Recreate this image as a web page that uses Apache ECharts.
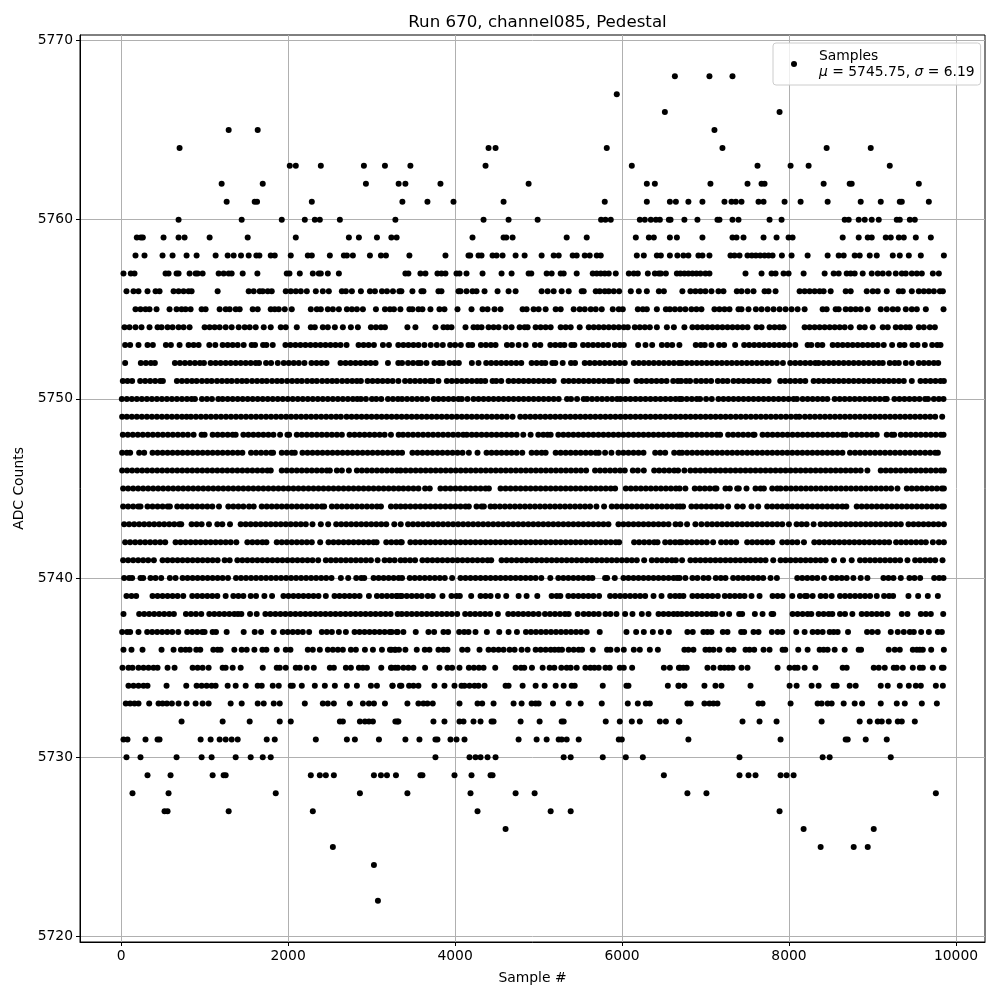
<!DOCTYPE html>
<html>
<head>
<meta charset="utf-8">
<title>Run 670, channel085, Pedestal</title>
<script src="https://cdn.jsdelivr.net/npm/echarts@6/dist/echarts.min.js"></script>
<style>
  html, body { margin: 0; padding: 0; background: #fff; }
  #chart { width: 1000px; height: 1000px; }
</style>
</head>
<body>
<div id="chart"></div>
<script>
// sample numbers, one list per ADC level
const s5768 = [6633,7047,7323];
const s5767 = [5937];
const s5766 = [6513,7887];
const s5765 = [1288,1636,7107];
const s5764 = [700,4401,4485,5817,7203,8451,8979];
const s5763 = [2020,2092,2392,2908,3160,3465,4365,6117,7623,8019,8235,9207];
const s5762 = [1204,1696,2932,3324,3405,3825,4881,6297,6393,7059,7503,7671,7707,8415,8727,8751,9555];
const s5761 = [1264,1600,1628,2284,3369,3669,3981,4581,5793,6297,6573,6645,6795,6963,7227,7311,7363,7431,7635,7695,7947,8139,8463,8859,9099,9327,9351,9675];
const s5760 = [688,1444,1924,2200,2320,2380,2620,3285,4341,4641,4989,5749,5801,5865,6213,6273,6345,6405,6453,6561,6581,6747,6903,7143,7167,7323,7395,7767,7911,8667,8715,8835,8907,8991,9075,9291,9327,9447,9507];
const s5759 = [188,236,260,508,688,760,1060,1516,2092,2728,2848,3064,3237,3300,4209,4581,4613,4689,5337,5577,6165,6321,6381,6573,6657,6963,7323,7371,7455,7695,7851,7995,8043,8643,8835,8943,8991,9159,9219,9315,9375,9519,9699];
const s5758 = [172,280,496,616,784,904,1132,1276,1348,1436,1528,1620,1656,1792,1840,2032,2236,2284,2500,2668,2704,2776,2980,3112,3172,3453,3885,4161,4181,4281,4317,4449,4497,4569,4725,4833,5037,5181,5241,5409,5457,5553,5613,5697,5745,6177,6261,6417,6465,6573,6663,6735,6795,6915,6963,7047,7299,7347,7407,7503,7555,7603,7655,7707,7755,7803,7915,8031,8223,8463,8595,8655,8787,8847,8967,9051,9243,9327,9435,9579,9855];
const s5757 = [28,116,160,532,568,664,688,820,892,916,976,1168,1228,1288,1324,1456,1632,1984,2016,2140,2296,2368,2392,2476,2608,3405,3441,3585,3645,3789,3837,3885,4017,4053,4137,4329,4557,4677,4881,4913,5097,5157,5265,5301,5457,5649,5697,5745,5793,5841,5925,6081,6141,6189,6309,6393,6441,6465,6525,6657,6699,6747,6795,6843,6891,6939,6999,7047,7479,7671,7791,7839,7935,7995,8175,8427,8535,8595,8691,8739,8787,8883,8991,9063,9123,9195,9279,9351,9399,9471,9531,9591,9723,9795];
const s5756 = [64,148,208,316,412,460,628,688,748,808,844,1156,1528,1588,1660,1696,1756,1804,1972,2032,2092,2152,2224,2332,2416,2488,2644,2692,2764,2872,2980,3040,3124,3184,3256,3333,3357,3489,3597,3621,3801,3837,4041,4065,4137,4209,4257,4353,4509,4641,4725,5037,5109,5181,5277,5361,5517,5541,5685,5733,5793,5841,5901,5965,6105,6201,6297,6441,6501,6723,6819,6879,6939,6999,7071,7155,7215,7375,7431,7503,7575,7707,7755,7839,8127,8187,8247,8307,8367,8415,8499,8679,8739,8931,9003,9063,9171,9315,9363,9471,9555,9615,9675,9735,9807,9843];
const s5755 = [172,232,292,340,424,580,664,724,772,832,964,1012,1180,1252,1300,1372,1420,1576,1636,1792,1840,1888,1960,2044,2272,2344,2392,2476,2536,2608,2704,2764,2824,2896,3052,3160,3220,3268,3345,3453,3489,3561,3609,3705,3813,3873,4029,4197,4329,4389,4473,4545,4809,4857,4941,5001,5085,5205,5265,5421,5493,5553,5625,5685,5757,5889,5961,6009,6189,6249,6297,6417,6525,6573,6633,6695,6759,6831,6891,6951,7107,7167,7227,7287,7395,7431,7515,7603,7671,7743,7815,7887,7959,8031,8103,8187,8403,8451,8559,8595,8679,8739,8799,8859,8943,9099,9171,9243,9303,9399,9471,9531,9639,9851];
const s5754 = [40,100,172,244,340,436,484,556,616,688,748,820,1000,1060,1120,1180,1252,1324,1408,1480,1540,1612,1708,1792,1912,1972,2104,2272,2320,2416,2476,2560,2656,2752,2836,2992,3052,3112,3160,3429,3525,3765,3861,3909,3957,4125,4221,4269,4317,4401,4461,4521,4605,4677,4773,4833,4869,4965,5025,5085,5145,5265,5325,5385,5493,5601,5661,5721,5781,5841,5901,5961,6021,6069,6153,6213,6273,6333,6417,6537,6621,6747,6843,6903,6963,7023,7083,7143,7203,7263,7323,7383,7443,7503,7611,7671,7767,7827,7887,7935,8187,8247,8307,8367,8427,8487,8547,8607,8667,8739,8847,8907,9003,9123,9183,9279,9339,9399,9447,9555,9615,9687,9747];
const s5753 = [48,108,208,316,380,536,596,700,808,868,928,1056,1128,1216,1276,1336,1396,1468,1564,1604,1700,1740,1816,1968,2028,2088,2148,2208,2268,2328,2388,2448,2508,2568,2628,2700,2844,2904,2964,3028,3136,3208,3320,3381,3441,3501,3561,3633,3709,3781,3853,3941,4001,4069,4161,4205,4309,4369,4429,4485,4621,4681,4761,4845,4957,5021,5141,5201,5261,5309,5393,5429,5533,5593,5653,5713,5773,5833,5913,5973,6021,6193,6281,6361,6477,6541,6601,6687,6883,6943,6991,7071,7163,7223,7355,7463,7523,7583,7643,7703,7763,7823,7883,7943,8003,8075,8223,8267,8343,8399,8523,8583,8643,8703,8763,8823,8883,8943,9003,9063,9135,9235,9327,9383,9479,9539,9627,9715,9775,9815];
const s5752 = [48,236,296,356,404,644,704,764,824,884,944,992,1072,1132,1192,1252,1312,1372,1432,1492,1552,1612,1652,1736,1796,1876,1948,2008,2068,2128,2196,2280,2340,2400,2460,2628,2688,2748,2808,2868,2928,2988,3048,3196,3320,3365,3437,3497,3557,3589,3657,3753,3813,3853,3933,3993,4045,4201,4281,4373,4433,4493,4553,4613,4673,4733,4793,4917,4977,5037,5081,5165,5201,5289,5389,5437,5553,5613,5673,5733,5793,5853,5913,5973,6033,6141,6201,6261,6321,6381,6441,6501,6561,6621,6681,6715,6775,6835,6895,6955,7015,7075,7135,7195,7255,7315,7375,7435,7495,7555,7615,7675,7735,7795,7855,7927,8015,8075,8135,8195,8255,8315,8355,8415,8475,8535,8595,8655,8715,8775,8835,8895,8955,9015,9075,9123,9207,9267,9315,9399,9471,9555,9615,9675,9735,9787];
const s5751 = [20,76,132,228,288,348,408,468,500,668,728,788,848,904,968,1028,1084,1148,1208,1268,1324,1388,1448,1504,1568,1628,1688,1744,1808,1868,1924,1988,2048,2108,2164,2228,2288,2344,2408,2468,2528,2584,2648,2708,2768,2824,2872,2952,3012,3072,3132,3192,3252,3321,3401,3461,3521,3581,3641,3701,3729,3801,3901,3961,4021,4081,4141,4201,4261,4309,4361,4449,4493,4553,4641,4701,4761,4821,4881,4941,5001,5061,5121,5181,5301,5361,5421,5481,5541,5601,5661,5721,5781,5841,5881,5953,6009,6061,6173,6233,6293,6353,6413,6473,6533,6613,6669,6707,6767,6815,6887,6947,7007,7067,7147,7207,7263,7335,7395,7455,7515,7575,7635,7695,7755,7895,7955,8015,8075,8135,8195,8295,8355,8415,8475,8535,8595,8655,8715,8775,8835,8895,8955,9015,9075,9135,9195,9255,9315,9375,9471,9575,9635,9695,9755,9815,9855];
const s5750 = [8,68,128,188,248,308,368,428,488,548,608,668,728,788,844,884,968,1028,1088,1164,1216,1276,1336,1396,1456,1516,1576,1636,1696,1756,1816,1876,1936,1996,2056,2116,2176,2236,2296,2356,2416,2476,2536,2596,2656,2716,2776,2828,2872,2932,3004,3056,3116,3196,3256,3316,3365,3425,3485,3545,3605,3665,3745,3801,3861,3921,3981,4041,4081,4149,4221,4281,4341,4401,4461,4521,4581,4641,4701,4761,4821,4881,4941,5001,5061,5121,5181,5241,5341,5389,5461,5541,5581,5641,5701,5761,5821,5881,5941,5981,6041,6101,6161,6221,6281,6341,6401,6461,6521,6581,6641,6689,6715,6775,6835,6895,6935,7007,7075,7155,7215,7275,7335,7395,7455,7515,7575,7635,7695,7755,7815,7875,7935,7995,8055,8095,8163,8223,8283,8343,8403,8459,8547,8607,8667,8727,8787,8847,8907,8967,9027,9087,9147,9171,9263,9323,9383,9443,9503,9563,9630,9665,9735,9795,9851];
const s5749 = [12,68,128,188,248,308,368,428,488,548,608,668,728,784,836,896,956,1016,1076,1136,1196,1256,1316,1376,1436,1496,1556,1616,1676,1736,1796,1856,1916,1976,2036,2096,2156,2216,2276,2336,2396,2456,2516,2576,2632,2700,2760,2820,2880,2940,3000,3060,3120,3180,3240,3300,3360,3420,3480,3540,3600,3660,3720,3780,3840,3900,3960,4020,4080,4140,4200,4260,4320,4380,4440,4500,4560,4620,4689,4781,4841,4901,4961,5021,5081,5141,5201,5261,5321,5381,5441,5501,5561,5621,5681,5741,5801,5861,5921,5981,6041,6101,6161,6221,6281,6341,6401,6461,6521,6581,6641,6701,6761,6821,6881,6941,7001,7061,7121,7181,7241,7301,7363,7423,7483,7543,7603,7663,7723,7783,7843,7903,7963,8023,8083,8125,8191,8251,8311,8371,8431,8491,8551,8611,8671,8731,8791,8851,8911,8971,9031,9091,9151,9211,9271,9331,9391,9451,9511,9571,9631,9691,9751,9835];
const s5748 = [20,80,140,200,260,320,380,440,500,560,620,680,740,800,868,964,1000,1096,1156,1216,1276,1336,1372,1464,1524,1584,1644,1704,1764,1824,1904,1992,2012,2104,2164,2224,2284,2344,2404,2464,2524,2584,2644,2736,2796,2856,2916,2976,3036,3096,3156,3232,3324,3377,3437,3497,3557,3617,3677,3737,3797,3857,3917,3977,4037,4097,4141,4200,4257,4317,4377,4437,4497,4557,4617,4677,4737,4817,4905,4997,5057,5109,5145,5237,5297,5357,5417,5477,5537,5597,5657,5717,5777,5837,5897,5957,6017,6077,6137,6197,6257,6317,6377,6437,6497,6557,6617,6677,6715,6775,6835,6895,6955,7015,7075,7135,7175,7271,7331,7391,7451,7511,7571,7587,7683,7743,7803,7863,7923,7983,8043,8103,8163,8223,8283,8343,8403,8463,8523,8583,8643,8679,8751,8811,8871,8931,8991,9051,9171,9231,9259,9339,9399,9459,9519,9579,9639,9699,9759,9819,9851];
const s5747 = [12,68,108,216,276,376,436,496,556,616,676,736,796,856,916,976,1036,1096,1156,1216,1276,1336,1396,1452,1556,1616,1676,1736,1796,1820,1924,1984,2044,2080,2172,2232,2292,2352,2412,2472,2532,2592,2652,2712,2772,2832,2892,2952,3012,3072,3132,3192,3252,3312,3365,3489,3549,3609,3669,3729,3789,3849,3909,3969,4029,4089,4165,4269,4377,4437,4497,4557,4617,4677,4737,4805,4917,4977,5037,5085,5205,5265,5325,5385,5445,5505,5565,5625,5685,5721,5797,5873,5957,6017,6077,6137,6197,6257,6397,6457,6517,6625,6685,6720,6780,6840,6900,6960,7020,7080,7140,7200,7260,7320,7380,7440,7500,7560,7620,7680,7740,7800,7860,7920,7980,8040,8100,8160,8220,8280,8340,8400,8460,8520,8580,8640,8731,8791,8851,8911,8971,9031,9091,9151,9211,9271,9331,9391,9451,9511,9571,9631,9691,9751,9783];
const s5746 = [12,72,132,192,252,312,372,432,492,552,612,672,732,792,852,912,972,1032,1092,1152,1212,1272,1332,1392,1452,1512,1572,1632,1692,1752,1792,1924,1984,2044,2104,2164,2224,2284,2344,2404,2464,2500,2584,2644,2728,2824,2884,2944,3004,3064,3124,3184,3244,3304,3348,3408,3468,3528,3588,3648,3708,3768,3828,3888,3948,4008,4068,4128,4188,4248,4308,4368,4428,4488,4548,4608,4668,4728,4788,4848,4908,4968,5028,5088,5148,5208,5268,5328,5388,5448,5508,5570,5677,5737,5797,5857,5917,5977,6033,6129,6189,6261,6385,6445,6505,6565,6625,6671,6747,6819,6879,6939,6999,7059,7119,7179,7239,7299,7359,7419,7479,7539,7599,7659,7719,7779,7839,7899,7959,8019,8079,8139,8199,8259,8319,8379,8439,8499,8559,8619,8679,8739,8799,8859,8939,9099,9159,9219,9279,9339,9399,9459,9519,9579,9639,9699,9759,9819,9855];
const s5745 = [24,84,144,204,264,324,384,444,504,564,624,684,744,804,864,924,984,1044,1104,1164,1224,1284,1344,1404,1464,1524,1584,1644,1704,1764,1824,1884,1944,2004,2064,2124,2184,2244,2304,2364,2424,2484,2544,2604,2664,2724,2784,2844,2904,2964,3024,3084,3144,3204,3264,3324,3381,3441,3501,3561,3641,3697,3825,3885,3945,4005,4065,4125,4185,4245,4305,4365,4405,4545,4605,4665,4725,4785,4845,4905,4965,5025,5085,5145,5205,5265,5325,5385,5445,5505,5565,5625,5685,5745,5805,5865,5917,6045,6105,6165,6225,6285,6345,6405,6465,6525,6585,6645,6690,6759,6871,6931,6991,7051,7111,7131,7239,7291,7379,7399,7491,7599,7659,7699,7799,7859,7899,7963,8023,8083,8143,8203,8263,8323,8383,8443,8503,8563,8623,8683,8743,8803,8863,8923,8983,9043,9103,9163,9223,9299,9411,9471,9531,9591,9651,9711,9771,9831,9855];
const s5744 = [24,84,144,204,232,316,376,436,496,556,584,672,732,792,852,912,972,1032,1092,1172,1284,1344,1404,1464,1532,1588,1684,1744,1804,1864,1924,1984,2044,2104,2164,2224,2284,2344,2404,2432,2524,2584,2644,2704,2764,2824,2884,2944,3004,3064,3112,3232,3292,3348,3405,3465,3525,3585,3645,3705,3765,3825,3885,3945,4005,4065,4125,4165,4257,4317,4345,4425,4477,4537,4597,4657,4717,4777,4837,4897,4957,5017,5077,5137,5197,5257,5317,5377,5437,5497,5557,5617,5693,5785,5877,5937,5997,6057,6117,6177,6237,6297,6357,6417,6477,6537,6597,6657,6695,6731,6831,6891,6951,7011,7071,7131,7191,7271,7379,7447,7551,7631,7739,7799,7859,7919,7979,8039,8099,8159,8219,8279,8339,8399,8459,8519,8579,8639,8687,8811,8871,8931,8991,9051,9111,9171,9231,9291,9351,9411,9471,9531,9591,9651,9711,9771,9831,9855];
const s5743 = [36,96,156,216,276,336,396,456,516,576,636,696,720,844,904,964,1052,1152,1212,1304,1432,1492,1552,1612,1672,1732,1792,1852,1912,1972,2032,2092,2152,2212,2292,2392,2480,2576,2636,2696,2756,2816,2876,2936,2996,3056,3116,3176,3272,3349,3437,3497,3557,3617,3677,3737,3797,3857,3917,3977,4037,4097,4157,4217,4277,4337,4397,4457,4517,4577,4637,4697,4757,4817,4877,4937,4997,5057,5117,5177,5237,5297,5357,5417,5477,5537,5597,5657,5717,5777,5837,5957,6017,6077,6137,6197,6257,6317,6377,6437,6497,6557,6641,6699,6779,6879,6951,7019,7079,7139,7199,7259,7319,7379,7439,7499,7559,7619,7679,7739,7799,7859,7919,7999,8091,8151,8211,8295,8379,8439,8499,8559,8619,8679,8739,8799,8859,8919,8979,9039,9099,9159,9219,9279,9339,9431,9491,9551,9611,9671,9731,9791,9855];
const s5742 = [48,108,168,228,288,348,408,468,528,652,712,772,832,892,952,1012,1072,1132,1192,1252,1312,1380,1512,1572,1632,1692,1740,1864,1924,1984,2044,2104,2164,2224,2284,2384,2484,2544,2604,2664,2724,2784,2844,2904,2964,3024,3060,3176,3236,3296,3348,3361,3465,3525,3585,3645,3705,3765,3825,3885,3945,4005,4065,4125,4185,4245,4305,4365,4425,4485,4545,4605,4665,4725,4785,4845,4905,4965,5025,5085,5145,5205,5265,5325,5385,5445,5505,5565,5625,5685,5745,5805,5865,5925,5965,6145,6205,6265,6325,6385,6425,6517,6577,6637,6690,6715,6775,6835,6895,6955,7015,7091,7187,7247,7307,7367,7499,7559,7619,7679,7739,7799,7919,7979,8039,8099,8179,8303,8363,8423,8483,8543,8603,8663,8723,8783,8843,8903,8963,9023,9083,9143,9199,9283,9343,9403,9463,9523,9583,9639,9723,9795,9855];
const s5741 = [24,84,144,204,264,324,392,496,556,616,676,736,796,856,916,976,1036,1096,1156,1240,1300,1392,1452,1512,1572,1632,1692,1752,1812,1872,1932,1992,2052,2112,2172,2232,2292,2360,2452,2512,2572,2632,2692,2752,2812,2872,2932,2992,3072,3156,3216,3276,3348,3401,3461,3521,3609,3669,3729,3789,3849,3909,3969,4029,4089,4149,4209,4269,4329,4389,4433,4557,4617,4677,4737,4797,4857,4917,4977,5037,5097,5157,5217,5277,5337,5397,5457,5517,5577,5637,5697,5757,5817,5877,5937,5997,6057,6117,6177,6265,6357,6417,6477,6537,6597,6645,6719,6819,6879,6939,6999,7059,7119,7179,7239,7299,7359,7419,7479,7539,7599,7659,7719,7811,7899,7959,8019,8079,8139,8199,8259,8319,8379,8439,8539,8647,8751,8851,8911,8971,9031,9091,9151,9211,9271,9331,9419,9511,9571,9631,9691,9751,9839];
const s5740 = [36,96,132,232,264,352,412,480,584,652,736,796,856,916,976,1036,1096,1156,1216,1280,1376,1436,1496,1556,1616,1676,1736,1796,1856,1916,1976,2036,2096,2156,2216,2276,2336,2396,2456,2520,2632,2720,2816,2876,2912,3024,3084,3144,3204,3264,3324,3365,3457,3517,3577,3637,3697,3757,3817,3877,3965,4065,4125,4185,4245,4305,4365,4425,4485,4545,4605,4665,4725,4785,4845,4905,4965,5033,5141,5237,5297,5357,5417,5477,5537,5597,5645,5797,5821,5913,6017,6077,6137,6197,6257,6317,6377,6437,6497,6557,6617,6690,6660,6759,6843,6903,6975,7035,7123,7183,7239,7331,7391,7451,7511,7571,7631,7691,7779,7855,8099,8159,8219,8279,8339,8419,8511,8571,8631,8691,8771,8859,8939,9131,9191,9251,9339,9443,9503,9571,9739,9799,9851];
const s5739 = [64,124,180,376,436,496,556,616,676,744,852,912,972,1032,1092,1152,1252,1344,1404,1464,1552,1616,1716,1808,1944,2004,2064,2124,2184,2244,2304,2364,2452,2556,2616,2676,2736,2796,2856,2968,3064,3124,3184,3244,3304,3348,3301,3361,3421,3481,3541,3601,3673,3733,3849,3957,4017,4057,4193,4305,4365,4425,4513,4613,4761,4857,4985,5157,5217,5261,5357,5417,5477,5537,5597,5657,5725,5857,5917,5977,6037,6097,6157,6217,6277,6377,6473,6577,6637,6689,6735,6843,6903,6963,7023,7083,7147,7231,7291,7351,7411,7467,7551,7647,7803,7863,7923,8039,8131,8191,8215,8283,8379,8439,8511,8611,8671,8731,8791,8851,8911,8971,9051,9139,9199,9247,9431,9547,9663,9783];
const s5738 = [28,216,276,336,396,456,516,576,632,776,836,896,960,1056,1116,1176,1236,1296,1356,1400,1440,1544,1624,1728,1788,1848,1908,1968,2028,2088,2148,2208,2268,2328,2388,2448,2508,2568,2628,2688,2748,2808,2868,2928,2988,3048,3108,3168,3228,3312,3361,3421,3481,3541,3601,3661,3721,3781,3841,3901,3961,4025,4121,4181,4241,4301,4361,4421,4513,4637,4697,4757,4817,4877,4937,5001,5077,5137,5197,5257,5317,5361,5469,5541,5601,5661,5721,5801,5861,5933,6037,6125,6237,6317,6437,6497,6557,6617,6665,6715,6775,6835,6895,6955,7015,7075,7119,7199,7283,7403,7439,7591,7683,7791,7811,8043,8103,8163,8223,8267,8355,8415,8475,8519,8611,8671,8759,8871,8931,8991,9051,9111,9179,9351,9419,9579,9639,9699,9847];
const s5737 = [12,72,108,208,312,372,432,492,552,612,684,792,852,912,972,1000,1096,1136,1264,1468,1600,1676,1828,1936,1996,2056,2116,2176,2252,2404,2464,2524,2608,2692,2796,2856,2916,2976,3036,3096,3156,3216,3312,3241,3301,3381,3529,3681,3749,3861,3917,4049,4109,4161,4245,4381,4529,4641,4741,4849,4909,4969,5029,5089,5149,5209,5269,5329,5389,5449,5509,5577,5733,6053,6169,6261,6369,6465,6561,6783,6847,6975,7023,7071,7207,7263,7427,7463,7575,7635,7795,7863,7919,8087,8187,8283,8343,8403,8487,8535,8583,8707,8935,8995,9063,9219,9303,9375,9447,9495,9583,9675,9783,9831];
const s5736 = [28,124,256,484,628,716,772,820,900,948,1104,1156,1192,1356,1444,1504,1596,1692,1740,1864,1972,2028,2236,2296,2380,2476,2536,2596,2656,2752,2812,2920,3016,3124,3220,3280,3328,3237,3285,3405,3541,3637,3693,3801,3861,3909,4085,4149,4293,4401,4461,4521,4581,4653,4713,4797,4869,4965,5025,5085,5145,5193,5241,5281,5361,5421,5481,5521,5649,5821,5861,5941,6021,6141,6213,6333,6429,6747,6795,6855,6999,7047,7095,7167,7275,7335,7479,7527,7583,7695,7767,7923,7955,8111,8223,8367,8415,8463,8547,8667,8835,8863,9195,9267,9327,9483,9531,9567,9603,9703,9855];
const s5735 = [16,88,136,208,268,328,388,436,556,640,856,916,976,1048,1216,1252,1336,1432,1696,1864,1900,1972,2092,2140,2224,2308,2500,2548,2692,2752,2848,2896,2944,3116,3232,3316,3241,3285,3381,3441,3501,3641,3813,3909,3965,4053,4165,4225,4285,4341,4481,4725,4789,4829,4921,5049,5133,5189,5273,5337,5385,5457,5561,5621,5669,5721,5801,5853,5973,6021,6121,6501,6573,6681,6695,6735,6775,7023,7095,7179,7227,7275,7323,7431,7503,7863,8007,8067,8103,8187,8315,8643,8691,9015,9075,9147,9255,9291,9363,9483,9567,9603,9723,9831,9851];
const s5734 = [88,148,208,268,316,544,780,904,964,1024,1084,1132,1276,1372,1492,1636,1684,1816,1888,2032,2056,2164,2320,2440,2560,2704,2824,2992,3064,3252,3340,3249,3357,3449,3501,3561,3753,3873,3993,4077,4113,4173,4233,4281,4353,4605,4641,4809,4965,5073,5205,5301,5397,5433,5769,6053,6077,6549,6681,6675,6747,6987,7119,7191,7539,8007,8091,8271,8355,8535,8571,8727,8799,9099,9183,9327,9435,9519,9579,9759,9843];
const s5733 = [56,108,160,208,336,448,496,548,608,688,784,892,976,1048,1312,1444,1636,1708,1828,1900,2200,2416,2476,2548,2740,2896,2968,3028,3160,3429,3561,3621,3669,3733,4053,4269,4325,4461,4701,4797,4917,4965,5001,5173,5361,5505,5757,6069,6189,6285,6333,6783,6823,6987,7047,7095,7143,7635,7683,8019,8343,8391,8463,8511,8655,8787,8875,9099,9291,9387,9591,9771];
const s5732 = [724,1216,1540,1900,2032,2620,2656,2860,2920,2968,3016,3308,3285,3321,3741,3873,4053,4101,4221,4305,4437,4461,4785,5013,5277,5301,5805,5973,6117,6213,6453,6525,6681,6687,7443,7647,7851,8391,8847,8967,9063,9111,9195,9303,9351,9507];
const s5731 = [28,76,292,436,460,952,1072,1180,1252,1324,1396,1744,1840,2332,2704,2800,3088,3405,3573,3765,3789,3945,4017,4113,4761,4977,5097,5241,5277,5337,5481,5961,5997,6795,7899,8679,8703,8919,9171];
const s5730 = [64,232,664,964,1084,1372,1552,1696,1792,3765,4173,4245,4305,4389,4485,5301,5385,5769,6045,6249,7407,8403,8487,9219];
const s5729 = [316,592,1096,1228,1252,2272,2380,2452,2548,3028,3112,3184,3292,3585,3609,3993,4197,4425,4449,6501,7407,7515,7599,7899,7971,8055];
const s5728 = [136,568,1852,2860,3429,4185,4725,4953,6783,7011,9759];
const s5727 = [520,556,1288,2296,4269,5145,5385,7887];
const s5726 = [4605,8175,9015];
const s5725 = [2536,8379,8775,8943];
const s5724 = [3028];
const s5722 = [3076];

const levels = [
  [5768,s5768],[5767,s5767],[5766,s5766],[5765,s5765],[5764,s5764],[5763,s5763],[5762,s5762],[5761,s5761],
  [5760,s5760],[5759,s5759],[5758,s5758],[5757,s5757],[5756,s5756],[5755,s5755],[5754,s5754],[5753,s5753],
  [5752,s5752],[5751,s5751],[5750,s5750],[5749,s5749],[5748,s5748],[5747,s5747],[5746,s5746],[5745,s5745],
  [5744,s5744],[5743,s5743],[5742,s5742],[5741,s5741],[5740,s5740],[5739,s5739],[5738,s5738],[5737,s5737],
  [5736,s5736],[5735,s5735],[5734,s5734],[5733,s5733],[5732,s5732],[5731,s5731],[5730,s5730],[5729,s5729],
  [5728,s5728],[5727,s5727],[5726,s5726],[5725,s5725],[5724,s5724],[5722,s5722]
];
const xTicks = [0, 2000, 4000, 6000, 8000, 10000];
const yTicks = [5720, 5730, 5740, 5750, 5760, 5770];

let data = [];
levels.forEach(function(row) {
  row[1].forEach(function(x) { data.push([x, row[0]]); });
});

const font = '"DejaVu Sans"';
const chart = echarts.init(document.getElementById('chart'), null, { renderer: 'canvas' });

function valueAxis(min, max, ticks, labelPadding) {
  return {
    type: 'value',
    min: min,
    max: max,
    nameLocation: 'middle',
    nameTextStyle: { color: '#000', fontFamily: font, fontSize: 13.89 },
    axisLine: { show: true, onZero: false, lineStyle: { color: '#000', width: 1 } },
    axisTick: { show: true, length: 4, customValues: ticks, lineStyle: { color: '#000', width: 1 } },
    axisLabel: {
      color: '#000', fontFamily: font, fontSize: 13.89, margin: 7,
      padding: labelPadding,
      customValues: ticks,
      formatter: function(v) { return String(v); }
    },
    splitLine: { show: true, lineStyle: { color: '#b0b0b0', width: 1 } }
  };
}

chart.setOption({
  animation: false,
  title: {
    text: 'Run 670, channel085, Pedestal',
    left: 532.5,
    top: 9,
    textAlign: 'center',
    textStyle: { color: '#000', fontFamily: font, fontSize: 16.67, fontWeight: 'normal' }
  },
  grid: {
    left: 80, right: 15, top: 35, bottom: 58,
    show: true, borderColor: '#000', borderWidth: 1, backgroundColor: '#fff'
  },
  xAxis: Object.assign(valueAxis(-492.75, 10347.75, xTicks, 0), { name: 'Sample #', nameGap: 29 }),
  yAxis: Object.assign(valueAxis(5719.7, 5770.3, yTicks, [3, 0, 0, 0]), { name: 'ADC Counts', nameGap: 50 }),
  legend: {
    left: 773,
    top: 43,
    padding: [5, 6, 5, 18],
    data: [{ name: 'Samples', icon: 'circle' }],
    itemWidth: 40,
    itemHeight: 6,
    backgroundColor: 'rgba(255,255,255,0.8)',
    borderColor: '#cccccc',
    borderWidth: 1,
    borderRadius: 3,
    formatter: function(name) {
      return name + '\n{i|μ} = 5745.75, {i|σ} = 6.19';
    },
    textStyle: {
      color: '#000', fontFamily: font, fontSize: 13.89, lineHeight: 16,
      rich: { i: { fontStyle: 'italic', fontFamily: font, fontSize: 13.89, color: '#000' } }
    }
  },
  series: [{
    name: 'Samples',
    type: 'scatter',
    symbol: 'circle',
    symbolSize: 6,
    itemStyle: { color: '#000', opacity: 1 },
    emphasis: { disabled: true },
    clip: true,
    data: data
  }]
});
</script>
</body>
</html>
